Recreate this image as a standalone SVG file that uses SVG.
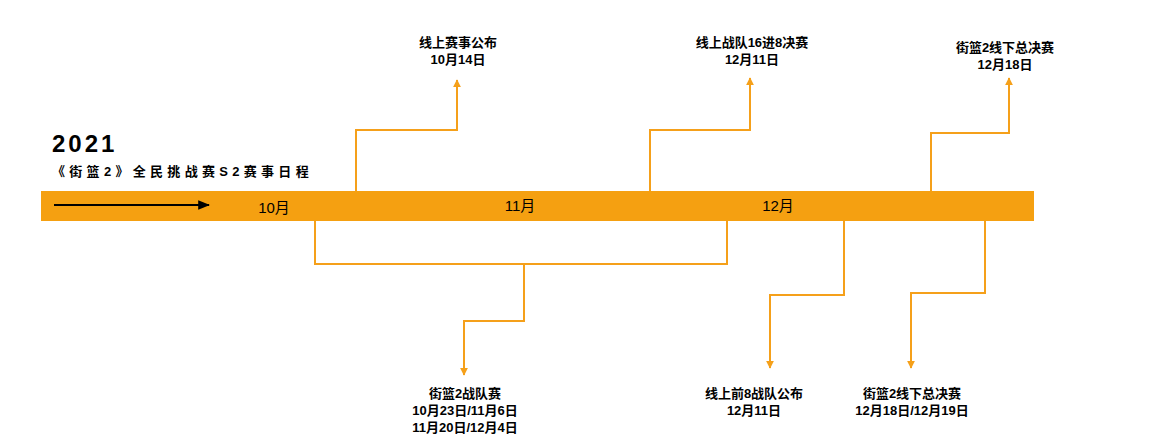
<svg xmlns="http://www.w3.org/2000/svg" width="1166" height="447" viewBox="0 0 1166 447">
<style>
.c{fill:none;stroke:#F5A01A;stroke-width:2}
.l{font-family:"Liberation Sans","Noto Sans CJK SC",sans-serif;font-size:13px;font-weight:bold;text-anchor:middle;fill:#000}
.m{font-family:"Liberation Sans","Noto Sans CJK SC",sans-serif;font-size:15px;text-anchor:middle;fill:#000}
</style>
<defs>
<marker id="a" viewBox="0 0 10 10" refX="9" refY="5" markerWidth="4" markerHeight="4" orient="auto"><path d="M0,0L10,5L0,10z" fill="#F5A01A"/></marker>
<marker id="b" viewBox="0 0 10 10" refX="9" refY="5" markerWidth="6" markerHeight="6" orient="auto"><path d="M0,1L10,5L0,9z" fill="#000"/></marker>
</defs>
<g id="title">
<text x="52" y="152" font-family="Liberation Sans,sans-serif" font-size="24" font-weight="bold" letter-spacing="3">2021</text>
<text x="52" y="176" font-family="Liberation Sans,Noto Sans CJK SC,sans-serif" font-size="13" font-weight="bold" letter-spacing="4.3">《街篮2》全民挑战赛S2赛事日程</text>
</g>
<g id="timeline">
<rect x="41" y="191" width="993" height="30" fill="#F5A011"/>
<line x1="54" y1="205" x2="209" y2="205" stroke="#000" stroke-width="2" marker-end="url(#b)"/>
<text class="m" x="274" y="213">10月</text>
<text class="m" x="520" y="211">11月</text>
<text class="m" x="778" y="211">12月</text>
</g>
<g id="connectors">
<path class="c" d="M356,191V130H457V80" marker-end="url(#a)"/>
<path class="c" d="M650,191V130H750V78" marker-end="url(#a)"/>
<path class="c" d="M931,191V133H1009V78" marker-end="url(#a)"/>
<path class="c" d="M315,221V264H727V221"/>
<path class="c" d="M524,264V321H464V375" marker-end="url(#a)"/>
<path class="c" d="M844,221V295H770V368" marker-end="url(#a)"/>
<path class="c" d="M985,221V293H911V368" marker-end="url(#a)"/>
</g>
<g id="n1"><text class="l" x="458" y="47">线上赛事公布</text><text class="l" x="458" y="64">10月14日</text></g>
<g id="n2"><text class="l" x="752" y="47">线上战队16进8决赛</text><text class="l" x="752" y="64">12月11日</text></g>
<g id="n3"><text class="l" x="1005" y="52">街篮2线下总决赛</text><text class="l" x="1005" y="69">12月18日</text></g>
<g id="n4"><text class="l" x="465" y="398">街篮2战队赛</text><text class="l" x="465" y="415">10月23日/11月6日</text><text class="l" x="465" y="432">11月20日/12月4日</text></g>
<g id="n5"><text class="l" x="754" y="398">线上前8战队公布</text><text class="l" x="754" y="415">12月11日</text></g>
<g id="n6"><text class="l" x="912" y="398">街篮2线下总决赛</text><text class="l" x="912" y="415">12月18日/12月19日</text></g>
</svg>
